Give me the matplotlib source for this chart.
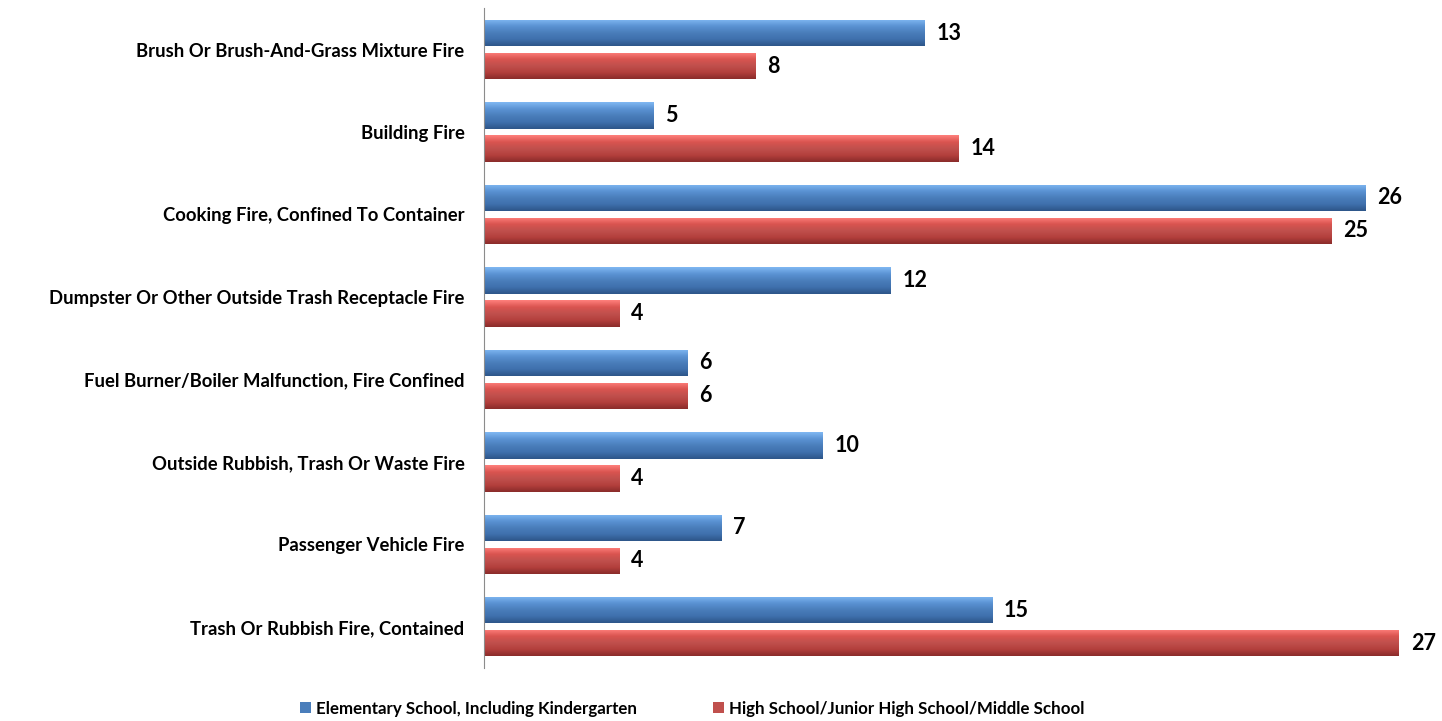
import numpy as np
import matplotlib
matplotlib.use("Agg")
import matplotlib.pyplot as plt
from matplotlib.colors import LinearSegmentedColormap

categories = [
    "Brush Or Brush-And-Grass Mixture Fire",
    "Building Fire",
    "Cooking Fire, Confined To Container",
    "Dumpster Or Other Outside Trash Receptacle Fire",
    "Fuel Burner/Boiler Malfunction, Fire Confined",
    "Outside Rubbish, Trash Or Waste Fire",
    "Passenger Vehicle Fire",
    "Trash Or Rubbish Fire, Contained",
]
elementary = [13, 5, 26, 12, 6, 10, 7, 15]
high_school = [8, 14, 25, 4, 6, 4, 4, 27]
series_names = ["Elementary School, Including Kindergarten",
                "High School/Junior High School/Middle School"]

plt.rcParams['font.family'] = ['Lato', 'DejaVu Sans']

blue_cmap = LinearSegmentedColormap.from_list(
    "b", ["#80b8f2", "#5b93d4", "#4a7ebb", "#3f70ad", "#2d5689"])
red_cmap = LinearSegmentedColormap.from_list(
    "r", ["#ff807c", "#da5450", "#c0504d", "#b4403d", "#8a2c2a"])

fig = plt.figure(figsize=(14.42, 7.21), dpi=100)
ax = fig.add_axes([0.3356, 0.0735, 0.658, 0.915])

y = np.arange(len(categories))
h = 0.32
off = 0.2


def gradient_bars(ax, ypos, vals, cmap, solid, label):
    bars = ax.barh(ypos, vals, height=h, color=solid, edgecolor="none", label=label)
    grad = np.linspace(0, 1, 64).reshape(-1, 1)
    for b in bars:
        x0, y0 = b.get_x(), b.get_y()
        w, hh = b.get_width(), b.get_height()
        im = ax.imshow(grad, cmap=cmap, aspect="auto",
                       extent=(x0, x0 + w, y0 + hh, y0), origin="upper",
                       zorder=2, interpolation="bicubic")
        im.set_clip_path(b)
    return bars


b1 = gradient_bars(ax, y - off, elementary, blue_cmap, "#4a7ebb", series_names[0])
b2 = gradient_bars(ax, y + off, high_school, red_cmap, "#c0504d", series_names[1])

for vals, ypos in ((elementary, y - off), (high_school, y + off)):
    for v, yy in zip(vals, ypos):
        ax.text(v + 0.35, yy, str(v), va="center", ha="left",
                fontsize=15.5, fontweight="bold", color="black")

ax.set_xlim(0, 28)
ax.set_ylim(len(categories) - 0.5, -0.5)
ax.set_yticks(y)
ax.set_yticklabels(categories, fontsize=13.3, fontweight="bold")
ax.tick_params(axis="y", length=0, pad=14)
ax.set_xticks([])
for s in ("top", "right", "bottom"):
    ax.spines[s].set_visible(False)
ax.spines["left"].set_color("#8c8c8c")

fig.legend(handles=[b1, b2], labels=series_names, loc="lower center",
           bbox_to_anchor=(0.48, -0.015), ncol=2, frameon=False,
           prop={"weight": "bold", "size": 12.2}, handlelength=0.65,
           handleheight=0.65, handletextpad=0.3, columnspacing=4.5)

fig.savefig("out.png", dpi=100)
